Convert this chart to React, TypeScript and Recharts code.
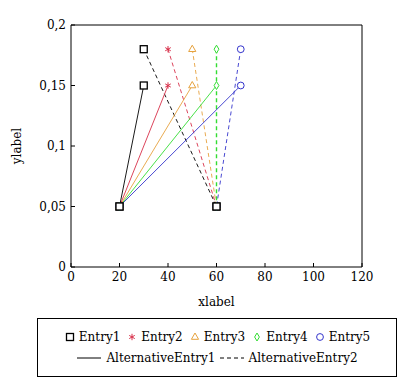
import React from "react";
import { ComposedChart, Line, XAxis, YAxis } from "recharts";

const entryNames = ["Entry1", "Entry2", "Entry3", "Entry4", "Entry5"];
const altNames = ["AlternativeEntry1", "AlternativeEntry2"];
const colors = ["#000000", "#d8304a", "#e6a23e", "#33dd33", "#3434cc"];
const shapes = ["square", "star", "triangle", "diamond", "circle"];

// solid lines go from the common start point up to (topX, 0.15)
const startPoint = { x: 20, y: 0.05 };
const solidTopX = [30, 40, 50, 60, 70];
const solidTopY = [0.15, 0.15, 0.15, 0.15, 0.15];
// dashed lines go from (topX, 0.18) down to the common end point
const dashedTopX = [30, 40, 50, 60, 70];
const dashedTopY = [0.18, 0.18, 0.18, 0.18, 0.18];
const endPoint = { x: 60, y: 0.05 };

const xTicks = [0, 20, 40, 60, 80, 100, 120];
const yTicks = [0, 0.05, 0.1, 0.15, 0.2];

const FONT = "'DejaVu Serif', serif";

const Marker = ({ shape, color, cx, cy }: any) => {
  const sw = 1;
  if (shape === "square")
    return <rect x={cx - 3.5} y={cy - 3.5} width={7} height={7} fill="white" stroke={color} strokeWidth={1.3} />;
  if (shape === "star") {
    const r = 3.2;
    const lines = [0, 60, 120].map((a) => {
      const rad = ((a + 90) * Math.PI) / 180;
      return (
        <line key={a} x1={cx - r * Math.cos(rad)} y1={cy - r * Math.sin(rad)} x2={cx + r * Math.cos(rad)} y2={cy + r * Math.sin(rad)} stroke={color} strokeWidth={sw} />
      );
    });
    return <g>{lines}</g>;
  }
  if (shape === "triangle")
    return <polygon points={`${cx},${cy - 4} ${cx - 3.6},${cy + 2.3} ${cx + 3.6},${cy + 2.3}`} fill="white" stroke={color} strokeWidth={sw} />;
  if (shape === "diamond")
    return <polygon points={`${cx},${cy - 4} ${cx + 2.4},${cy} ${cx},${cy + 4} ${cx - 2.4},${cy}`} fill="white" stroke={color} strokeWidth={sw} />;
  return <circle cx={cx} cy={cy} r={3.4} fill="white" stroke={color} strokeWidth={sw} />;
};

const dotFor = (i: number) => (props: any) => (
  <Marker key={`d-${i}-${props.index}`} shape={shapes[i]} color={colors[i]} cx={props.cx} cy={props.cy} />
);

const LegendBox = () => (
  <div
    style={{
      position: "absolute",
      left: 37,
      top: 318,
      width: 358,
      height: 57,
      border: "1px solid #000",
      fontFamily: FONT,
      fontSize: 12,
      color: "#000",
    }}
  >
    <div style={{ display: "flex", justifyContent: "center", alignItems: "center", marginTop: 8, height: 20 }}>
      {entryNames.map((n, i) => (
        <span key={n} style={{ display: "flex", alignItems: "center", marginRight: i < 4 ? 6 : 0 }}>
          <svg width={12} height={12}>
            <Marker shape={shapes[i]} color={colors[i]} cx={6} cy={6} />
          </svg>
          <span style={{ marginLeft: 3 }}>{n}</span>
        </span>
      ))}
    </div>
    <div style={{ display: "flex", justifyContent: "center", alignItems: "center", marginTop: 1, height: 20 }}>
      {altNames.map((n, i) => (
        <span key={n} style={{ display: "flex", alignItems: "center", marginRight: i === 0 ? 3 : 0 }}>
          <svg width={26} height={10}>
            <line x1={1} y1={5} x2={25} y2={5} stroke="#000" strokeWidth={1} strokeDasharray={i === 1 ? "4 3" : undefined} />
          </svg>
          <span style={{ marginLeft: 4 }}>{n}</span>
        </span>
      ))}
    </div>
  </div>
);

export default function App() {
  const tickStyle = { fontFamily: FONT, fontSize: 12, fill: "#000" };
  const blank = () => "";
  return (
    <div style={{ position: "fixed", left: 0, top: 0, width: 409, height: 386, background: "#fff" }}>
      <ComposedChart width={409} height={386} margin={{ top: 24, right: 46, bottom: 79, left: 11 }}>
        <XAxis
          xAxisId="b"
          type="number"
          dataKey="x"
          domain={[0, 120]}
          ticks={xTicks}
          height={40}
          stroke="#000"
          tickSize={-4}
          tickMargin={9}
          tick={tickStyle}
          label={{ value: "xlabel", position: "insideBottom", offset: 1, style: { ...tickStyle } }}
        />
        <XAxis xAxisId="t" orientation="top" type="number" dataKey="x" domain={[0, 120]} ticks={xTicks} height={1} stroke="#000" tickSize={-4} tickFormatter={blank} />
        <YAxis
          yAxisId="l"
          type="number"
          domain={[0, 0.2]}
          ticks={yTicks}
          width={60}
          stroke="#000"
          tickSize={-4}
          tickMargin={9}
          tick={tickStyle}
          tickFormatter={(v: number) => String(v).replace(".", ",")}
          label={{ value: "ylabel", angle: -90, position: "insideLeft", offset: 6, style: { ...tickStyle, textAnchor: "middle" } }}
        />
        <YAxis yAxisId="r" orientation="right" type="number" domain={[0, 0.2]} ticks={yTicks} width={1} stroke="#000" tickSize={-4} tickFormatter={blank} />
        {colors.map((c, i) => (
          <Line
            key={`dash-${i}`}
            xAxisId="b"
            yAxisId="l"
            data={[{ x: dashedTopX[i], y: dashedTopY[i] }, endPoint]}
            dataKey="y"
            stroke={c}
            strokeWidth={i === 3 ? 1.4 : 0.9}
            strokeDasharray="4 3"
            dot={dotFor(i)}
            activeDot={false}
            isAnimationActive={false}
          />
        ))}
        {colors.map((c, i) => (
          <Line
            key={`solid-${i}`}
            xAxisId="b"
            yAxisId="l"
            data={[startPoint, { x: solidTopX[i], y: solidTopY[i] }]}
            dataKey="y"
            stroke={c}
            strokeWidth={0.9}
            dot={dotFor(i)}
            activeDot={false}
            isAnimationActive={false}
          />
        ))}
        <Line
          xAxisId="b"
          yAxisId="l"
          data={[startPoint, endPoint]}
          dataKey="y"
          stroke="none"
          dot={(p: any) => <Marker key={`base-${p.index}`} shape="square" color="#000" cx={p.cx} cy={p.cy} />}
          activeDot={false}
          isAnimationActive={false}
        />
      </ComposedChart>
      <LegendBox />
    </div>
  );
}
